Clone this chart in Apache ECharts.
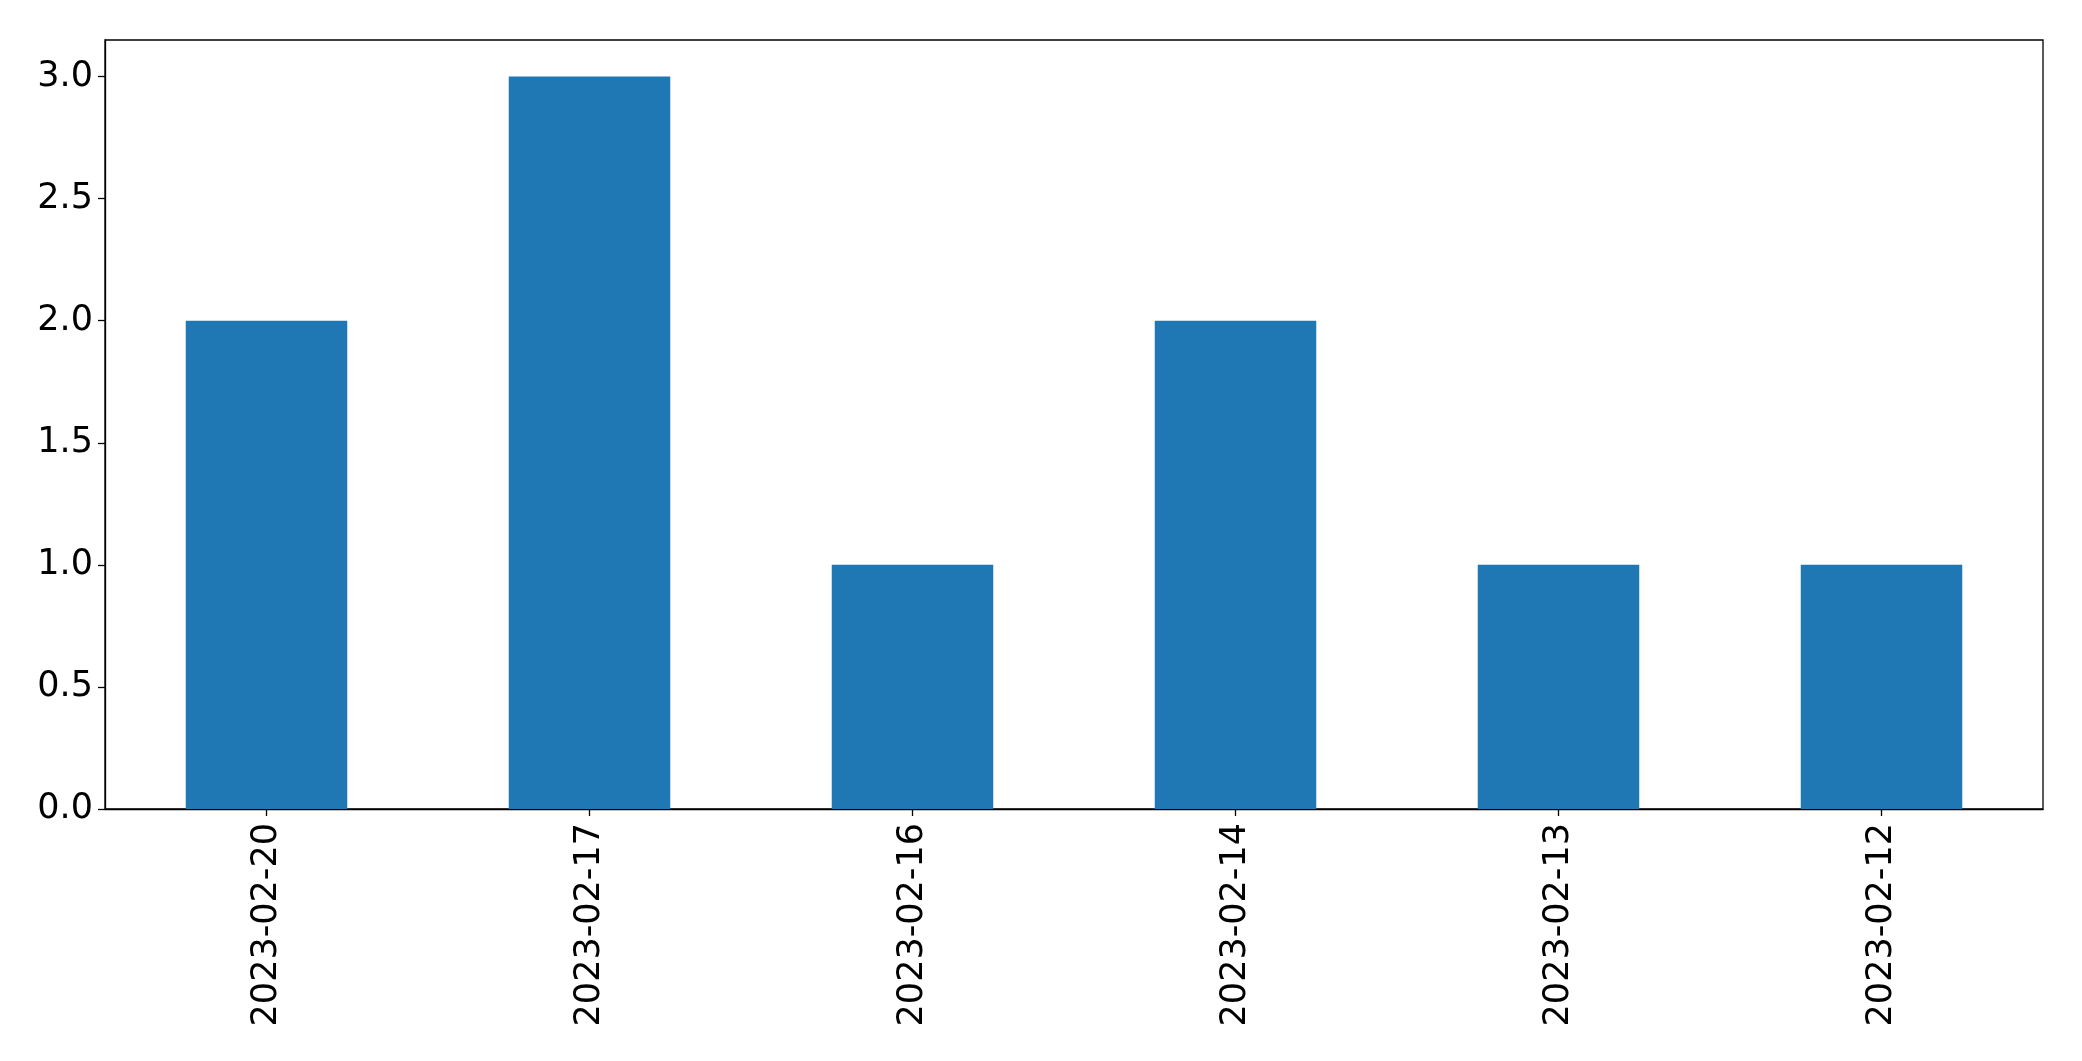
<!DOCTYPE html>
<html>
<head>
<meta charset="utf-8">
<script src="https://cdn.jsdelivr.net/npm/echarts@6/dist/echarts.min.js"></script>
<style>
html,body{margin:0;padding:0;background:#fff;}
#chart{width:2082px;height:1061px;}
</style>
</head>
<body>
<div id="chart"></div>
<script>
const categories = ["2023-02-20","2023-02-17","2023-02-16","2023-02-14","2023-02-13","2023-02-12"];
const counts = [2, 3, 1, 2, 1, 1];
const yTicks = [0, 0.5, 1.0, 1.5, 2.0, 2.5, 3.0];

const chart = echarts.init(document.getElementById('chart'), null, {renderer: 'canvas'});
chart.setOption({
  animation: false,
  backgroundColor: '#ffffff',
  grid: {
    left: 105, top: 40, right: 39, bottom: 252,
    show: true, borderColor: '#000000', borderWidth: 1.3, backgroundColor: 'transparent'
  },
  xAxis: {
    type: 'category',
    data: categories,
    boundaryGap: true,
    axisLine: {show: true, lineStyle: {color: '#000', width: 1.3}},
    axisTick: {show: true, alignWithLabel: true, length: 7, lineStyle: {color: '#000', width: 1.3}},
    axisLabel: {
      rotate: 90, margin: 14, color: '#000', fontSize: 35,
      fontFamily: 'DejaVu Sans'
    },
    splitLine: {show: false}
  },
  yAxis: {
    type: 'value',
    min: 0, max: 3.15, interval: 0.5,
    axisLine: {show: true, lineStyle: {color: '#000', width: 1.3}},
    axisTick: {show: true, length: 7, lineStyle: {color: '#000', width: 1.3}, customValues: yTicks},
    axisLabel: {
      color: '#000', fontSize: 35, fontFamily: 'DejaVu Sans', margin: 12,
      customValues: yTicks,
      formatter: v => v.toFixed(1)
    },
    splitLine: {show: false}
  },
  series: [{
    type: 'bar',
    data: counts,
    barWidth: '50%',
    itemStyle: {color: '#1f77b4'}
  }]
});
</script>
</body>
</html>
